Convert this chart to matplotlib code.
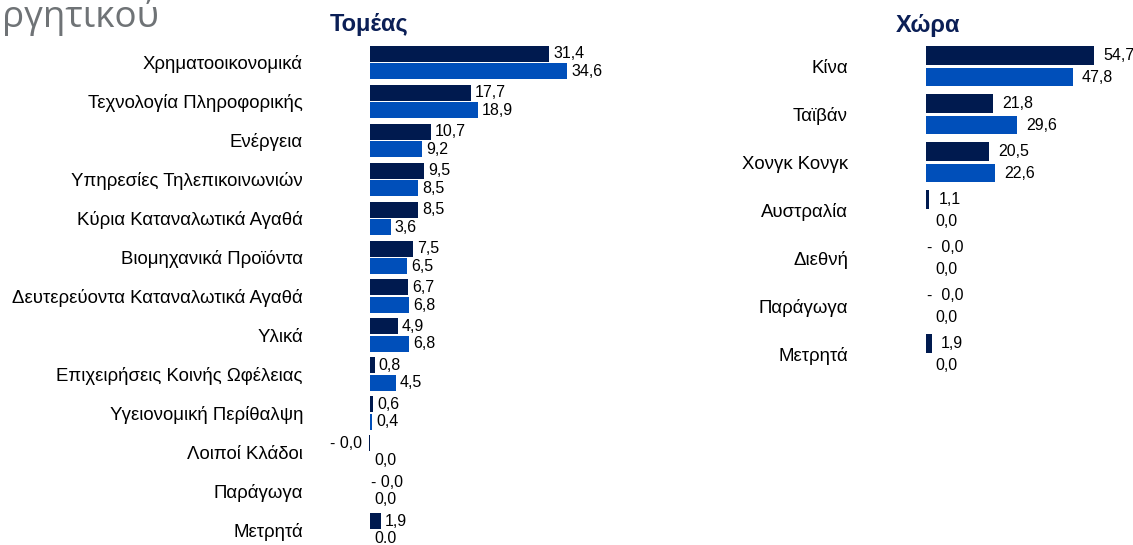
import matplotlib
matplotlib.use("Agg")
import matplotlib.pyplot as plt

plt.rcParams['font.family'] = ['Liberation Sans', 'DejaVu Sans']

# Τομέας
sectors = ['Χρηματοοικονομικά', 'Τεχνολογία Πληροφορικής', 'Ενέργεια',
           'Υπηρεσίες Τηλεπικοινωνιών', 'Κύρια Καταναλωτικά Αγαθά',
           'Βιομηχανικά Προϊόντα', 'Δευτερεύοντα Καταναλωτικά Αγαθά', 'Υλικά',
           'Επιχειρήσεις Κοινής Ωφέλειας', 'Υγειονομική Περίθαλψη',
           'Λοιποί Κλάδοι', 'Παράγωγα', 'Μετρητά']
sector_a = [31.4, 17.7, 10.7, 9.5, 8.5, 7.5, 6.7, 4.9, 0.8, 0.6, -0.15, -0.01, 1.9]
sector_b = [34.6, 18.9, 9.2, 8.5, 3.6, 6.5, 6.8, 6.8, 4.5, 0.4, 0.0, 0.0, 0.0]
sector_a_lbl = ['31,4', '17,7', '10,7', '9,5', '8,5', '7,5', '6,7', '4,9', '0,8', '0,6',
                '- 0,0', '- 0,0', '1,9']
sector_b_lbl = ['34,6', '18,9', '9,2', '8,5', '3,6', '6,5', '6,8', '6,8', '4,5', '0,4',
                '0,0', '0,0', '0.0']

# Χώρα
countries = ['Κίνα', 'Ταϊβάν', 'Χονγκ Κονγκ', 'Αυστραλία', 'Διεθνή', 'Παράγωγα', 'Μετρητά']
country_a = [54.7, 21.8, 20.5, 1.1, -0.01, -0.01, 1.9]
country_b = [47.8, 29.6, 22.6, 0.0, 0.0, 0.0, 0.0]
country_a_lbl = ['54,7', '21,8', '20,5', '1,1', '-  0,0', '-  0,0', '1,9']
country_b_lbl = ['47,8', '29,6', '22,6', '0,0', '0,0', '0,0', '0,0']

DARK = '#001a4f'
BLUE = '#004fba'
W, H = 1133, 545

fig = plt.figure(figsize=(W / 100, H / 100), dpi=100)


def px_axes(x0, x1, ytop, ybot):
    return fig.add_axes([x0 / W, 1 - ybot / H, (x1 - x0) / W, (ybot - ytop) / H])


def draw(ax, cats, a, b, la, lb, off, pad, h, d, catsize):
    y = list(range(len(cats)))
    ax.barh([i - d for i in y], a, height=h, color=DARK, clip_on=False)
    ax.barh([i + d for i in y], b, height=h, color=BLUE, clip_on=False)
    for i in y:
        for v, lab, yy in ((a[i], la[i], i - d), (b[i], lb[i], i + d)):
            if v <= -0.1:
                ax.annotate(lab, (v, yy), xytext=(-7, 0), textcoords='offset pixels',
                            ha='right', va='center', fontsize=11.5, annotation_clip=False)
            elif v < 0:
                ax.annotate(lab, (0, yy), xytext=(1, 0), textcoords='offset pixels',
                            ha='left', va='center', fontsize=11.5, annotation_clip=False)
            else:
                ax.annotate(lab, (v, yy), xytext=(off, 0), textcoords='offset pixels',
                            ha='left', va='center', fontsize=11.5, annotation_clip=False)
    ax.set_ylim(len(cats) - 0.5, -0.5)
    ax.set_yticks(y)
    ax.set_yticklabels(cats, fontsize=catsize)
    ax.tick_params(axis='y', length=0, pad=pad)
    ax.set_xticks([])
    for s in ax.spines.values():
        s.set_visible(False)
    ax.patch.set_alpha(0)


ax1 = px_axes(370, 700, 43, 549.5)
ax1.set_xlim(0, 330 / 5.7)
draw(ax1, sectors, sector_a, sector_b, sector_a_lbl, sector_b_lbl,
     4, 67 * 0.72, 0.41, 0.225, 13.4)

ax2 = px_axes(926, 1133, 42.3, 378.3)
ax2.set_xlim(0, 207 / 3.075)
draw(ax2, countries, country_a, country_b, country_a_lbl, country_b_lbl,
     9, 78 * 0.72, 0.39, 0.225, 13.4)

fig.text(330 / W, 1 - 31 / H, 'Τομέας', fontsize=17, fontweight='bold', color='#0b1f56')
fig.text(896 / W, 1 - 32 / H, 'Χώρα', fontsize=17, fontweight='bold', color='#0b1f56')
fig.text(2 / W, 1 - 27 / H, 'ργητικού', fontsize=26.5, color='#6f7376',
         family=['Open Sans', 'DejaVu Sans'])

fig.savefig('out.png', dpi=100)
